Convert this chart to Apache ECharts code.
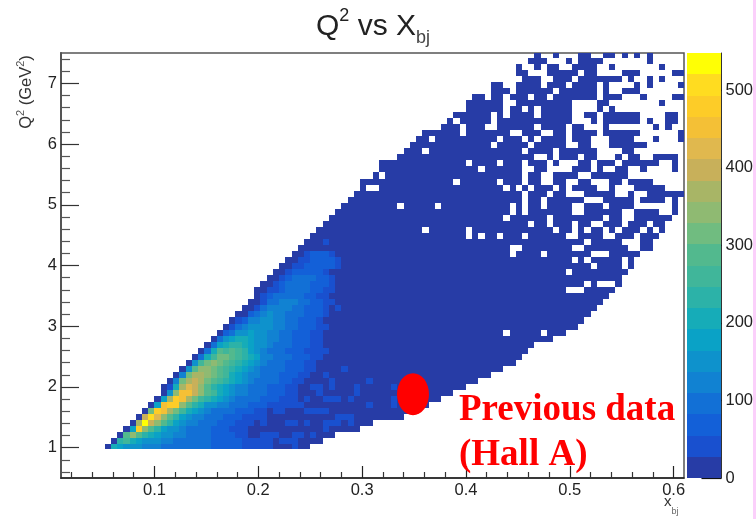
<!DOCTYPE html>
<html>
<head>
<meta charset="utf-8">
<style>html,body{margin:0;padding:0;background:#fff}#c{width:756px;height:519px;filter:blur(0.6px)}</style>
<script src="https://cdn.jsdelivr.net/npm/echarts@6/dist/echarts.min.js"></script>
</head>
<body>
<div id="c"></div>
<script>
// Filled bins per y row (row 0 = top), as column runs.
const filledRuns = [
"76 79 83-84 87-88 90 92 94",
"75-77 81 83-86 94",
"73 76 78-79 82-85 88 96",
"73-74 78-82 84-85 90-92 98-99",
"74-76 79-81 83-89 91 94 96",
"69-70 73-76 78-80 82-85 87 92 94 99",
"69-71 73-78 80-85 87 90-92",
"66-67 69-70 72-74 76-77 79-85 87-89 93 98-99",
"65-70 73-81 86-87 96",
"65-70 72-73 75 77-81 86 88",
"63-68 70 72-75 77-81 84-85 87-92 97-98",
"62 64-68 70-81 85 87-92 94 97-98",
"61-63 65-67 70-75 77-80 82-83 87 95 97",
"58-63 65-71 74-76 79-80 82-85 87-92 99",
"57-58 60-69 71-73 75 77-80 82-84 88-91 95 99",
"56-68 70-74 76-80 83-84 88-93",
"55-57 59-66 67-73 75-78 80-82 83-85 90-91",
"54-65 66-75 78 80-82 84-85 89 91-92 95-97 98",
"51-64 66-69 71-73 75-77 79 83-84 86-88 90-95 98",
"51-66 68-73 76-77 82-84 86 89-90 93 98",
"50 52-73 75-76 79-82 85-90",
"48-62 64-69 71-73 75-76 79-80 83-84 88-89 91-94",
"48 51-70 72 74 76-78 80 82-85 88 92-96",
"47-73 75-77 79-80 84-88 91 94-99",
"46-73 75-76 78 79-83 87-91 93-96 98",
"45-53 55-59 61-71 73 75-76 78-81 84-86 88-91 98",
"44-71 73 75-76 77-78 79-81 84-89 92-95 98",
"43-70 72-77 79-82 83-86 88-89 92-97",
"42-74 76-77 79-81 83-84 87-89 91-93 95-96",
"41-57 59-64 66-78 80-81 83 85-86 88 90-92 94 96",
"40-64 66 68-69 71-73 75-80 83-86 89-91 93-95",
"39-83 85-89 93-94",
"38-71 74-81 84-90 93-94",
"37-71 73-76 78-84 88-92",
"36-76 77-81 83 85-89 91",
"35-84 86-89 91",
"34-80 82-90",
"33-89",
"32-83 85 89",
"31-80 84-88",
"31-87",
"30-86",
"29-85",
"28-84",
"27-83",
"26-82",
"25-70 72-76 78-80",
"24-78",
"23-75",
"22-74",
"21-73",
"20-72",
"19-70",
"18-68",
"17-66",
"16-64",
"16-62",
"15-60",
"14-58",
"13-55",
"12-54",
"11-49",
"10-47",
"9-43",
"8-41",
"7-39"
];

// Colour-band index per row, from the row's first filled bin (0-9, a-j); bins past the end are band 0.
const bandRows = {
65: "0765554443333333322222111110001",
64: "08976555443333332222211111011100",
63: "0aca8765544333322221100111",
62: "06hca865543333222111",
61: "0djeca8654433322211101",
60: "0eifca865443332221111",
59: "0bhgdb97654333322211011",
58: "06ghhca8755443332221111",
57: "06dhgdb9876543333222111",
56: "05cggeca976544333222110",
55: "017dfeca87654433322211",
54: "04bdedba98765433332211",
53: "04bddcba97654433322211",
52: "05accba987654333322211",
51: "059bcba98765433322211",
50: "0379bba98764433322211",
49: "037a9a98654333222111",
48: "03678876554333222110",
47: "0356776554433222110",
46: "023556554433222110",
45: "013455554433222110",
44: "0124455443322210",
43: "0023454433322210",
42: "0013444433222101",
41: "001334443322110",
40: "0123333322110",
39: "00112333322110",
38: "0012333322210",
37: "001233332210",
36: "0012222210",
35: "00112222210",
34: "0011222210",
33: "0012221"
};

// Isolated light bins in the low-density part: [column, row].
const lightBins = [[42,49],[45,52],[42,53],[37,53],[43,54],[49,54],[40,55],[41,55],[43,55],[47,55],[53,55],[37,55],
[41,56],[47,56],[42,57],[43,57],[44,57],[39,57],[37,57],[46,57],[53,57],[49,58],[53,58],[36,58],[37,58],[38,58],
[39,59],[40,59],[41,59],[42,59],[44,60],[45,60],[46,60],[42,61],[43,61],[44,61],[39,61],[36,61],[37,61],[46,61],
[42,62],[37,63],[38,63],[40,63],[42,31]];

const xMajorTicks = [0.1,0.2,0.3,0.4,0.5,0.6];
const xMinorTicks = [0.02,0.04,0.06,0.08,0.12,0.14,0.16,0.18,0.22,0.24,0.26,0.28,0.32,0.34,0.36,0.38,0.42,0.44,0.46,0.48,0.52,0.54,0.56,0.58];
const yMajorTicks = [1,2,3,4,5,6,7];
const yMinorTicks = [0.6,0.8,1.2,1.4,1.6,1.8,2.2,2.4,2.6,2.8,3.2,3.4,3.6,3.8,4.2,4.4,4.6,4.8,5.2,5.4,5.6,5.8,6.2,6.4,6.6,6.8,7.2,7.4];
const colorbarTicks = [0,100,200,300,400,500];
const bandColors = ["#273ca6","#1950cf","#1360d8","#1270d6","#1182d2","#0e92cc","#0aa2c6","#16acb8","#2cb2a8","#40b69a",
"#52b98e","#70bc80","#8fba72","#a8b566","#c8b05a","#e0b84e","#f4c036","#fdcc28","#ffdc20","#ffff05"];
const previousData = [[0.349, 1.88]];

const X_MIN=0.01, X_MAX=0.61, X_BIN=0.006, Y_MIN=0.5, Y_MAX=7.5, Y_TOP_EDGE=7.4226, Y_BIN=0.0995, Y_BOTTOM=0.98, Z_MAX=548, BAND=Z_MAX/20;

const lightSet = new Set(lightBins.map(b => b[0]+":"+b[1]));
const cells = [];
filledRuns.forEach((runs, r) => {
  const parts = runs.split(" ").map(s => s.split("-").map(Number));
  const first = parts[0][0];
  const levels = bandRows[r] || "";
  const yHi = r === 0 ? Y_MAX : Y_TOP_EDGE - Y_BIN*(r-1);
  const yLo = r === filledRuns.length-1 ? Y_BOTTOM : Y_TOP_EDGE - Y_BIN*r;
  parts.forEach(p => {
    const end = p.length > 1 ? p[1] : p[0];
    for (let c = p[0]; c <= end; c++) {
      const ch = levels[c-first];
      let band = ch ? parseInt(ch, 20) : 0;
      if (!band && lightSet.has(c+":"+r)) band = 1;
      cells.push([X_MIN+X_BIN*c, X_MIN+X_BIN*(c+1), yLo, yHi, (band+0.5)*BAND]);
    }
  });
});
const bars = bandColors.map((_, i) => [0, 1, i*BAND, (i+1)*BAND, (i+0.5)*BAND]);

function drawBin(params, api) {
  const a = api.coord([api.value(0), api.value(3)]);
  const b = api.coord([api.value(1), api.value(2)]);
  const x0 = Math.round(a[0]), x1 = Math.round(b[0]), y0 = Math.round(a[1]), y1 = Math.round(b[1]);
  return {type:"rect", shape:{x:x0, y:y0, width:x1-x0, height:y1-y0},
    style:{fill:bandColors[Math.min(19, Math.floor(api.value(4)/BAND))]}};
}
const F = "'Liberation Sans', Arial, sans-serif";
const labelStyle = {fontFamily:F, fontSize:16.5, color:"#222"};

const chart = echarts.init(document.getElementById("c"), null, {renderer:"canvas", width:756, height:519});
chart.setOption({
  animation:false,
  backgroundColor:"#fff",
  title:{
    text:"{t|Q}{s|2}{t| vs X}{b|bj}", left:311, top:2,
    textStyle:{fontWeight:"normal",rich:{
      t:{fontFamily:F,fontWeight:"normal",fontSize:30,color:"#222",lineHeight:40,verticalAlign:"middle"},
      s:{fontFamily:F,fontWeight:"normal",fontSize:18,color:"#222",lineHeight:40,verticalAlign:"top"},
      b:{fontFamily:F,fontWeight:"normal",fontSize:18,color:"#444",lineHeight:40,verticalAlign:"bottom"}
    }}
  },
  grid:[
    {left:61, top:53, width:623, height:425, show:true, borderColor:"#555", borderWidth:1.5, backgroundColor:"#fff"},
    {left:687, top:53, width:36, height:425}
  ],
  xAxis:[
    {gridIndex:0,type:"value",min:X_MIN,max:X_MAX,splitLine:{show:false},
      axisLine:{show:true,onZero:false,lineStyle:{color:"#222",width:1.5}},
      axisTick:{show:true,inside:true,length:12,customValues:xMajorTicks,lineStyle:{color:"#222",width:1.2}},
      axisLabel:{show:true,customValues:xMajorTicks,margin:4,formatter:v=>v.toFixed(1),...labelStyle}},
    {gridIndex:0,type:"value",min:X_MIN,max:X_MAX,position:"bottom",splitLine:{show:false},
      axisLine:{show:false},axisLabel:{show:false},
      axisTick:{show:true,inside:true,length:6,customValues:xMinorTicks,lineStyle:{color:"#333",width:1.2}}},
    {gridIndex:1,type:"value",min:0,max:1,show:false}
  ],
  yAxis:[
    {gridIndex:0,type:"value",min:Y_MIN,max:Y_MAX,splitLine:{show:false},
      axisLine:{show:true,onZero:false,lineStyle:{color:"#555",width:2}},
      axisTick:{show:true,inside:true,length:18,customValues:yMajorTicks,lineStyle:{color:"#333",width:1.2}},
      axisLabel:{show:true,customValues:yMajorTicks,margin:4,formatter:v=>String(v),...labelStyle}},
    {gridIndex:0,type:"value",min:Y_MIN,max:Y_MAX,position:"left",splitLine:{show:false},
      axisLine:{show:false},axisLabel:{show:false},
      axisTick:{show:true,inside:true,length:9,customValues:yMinorTicks,lineStyle:{color:"#555",width:1.2}}},
    {gridIndex:1,type:"value",min:0,max:Z_MAX,position:"right",splitLine:{show:false},
      axisLine:{show:true,onZero:false,lineStyle:{color:"#333",width:1}},
      axisTick:{show:true,inside:true,length:20,customValues:colorbarTicks,lineStyle:{color:"#111",width:1.2}},
      axisLabel:{show:true,customValues:colorbarTicks,margin:4,formatter:v=>String(v),...labelStyle}}
  ],
  series:[
    {type:"custom",name:"bins",xAxisIndex:0,yAxisIndex:0,coordinateSystem:"cartesian2d",clip:true,
      renderItem:drawBin,data:cells,encode:{x:[0,1],y:[2,3]},silent:true},
    {type:"custom",name:"palette",xAxisIndex:2,yAxisIndex:2,coordinateSystem:"cartesian2d",
      renderItem:drawBin,data:bars,encode:{x:[0,1],y:[2,3]},silent:true},
    {type:"scatter",name:"Previous data",xAxisIndex:0,yAxisIndex:0,data:previousData,symbol:"circle",symbolSize:[32,42],
      itemStyle:{color:"#ff0000",opacity:1},z:5,silent:true}
  ],
  graphic:[
    {type:"text",x:25,y:92,rotation:Math.PI/2,z:10,style:{
      text:"{q|Q}{s|2}{q| (GeV}{s|2}{q|)}",align:"center",verticalAlign:"middle",
      rich:{q:{fontFamily:F,fontSize:16.5,fill:"#333",lineHeight:20,verticalAlign:"bottom"},
            s:{fontFamily:F,fontSize:11,fill:"#555",lineHeight:20,verticalAlign:"top"}}}},
    {type:"text",x:664,y:494,z:10,style:{
      text:"{q|x}{s|bj}",
      rich:{q:{fontFamily:F,fontSize:15,fill:"#333",lineHeight:22,verticalAlign:"top"},
            s:{fontFamily:F,fontSize:9,fill:"#666",lineHeight:22,verticalAlign:"bottom"}}}},
    {type:"text",x:459,y:392,z:10,style:{text:"Previous data",font:"bold 37px 'Liberation Serif', serif",fill:"#ff0000"}},
    {type:"text",x:459,y:437,z:10,style:{text:"(Hall A)",font:"bold 37px 'Liberation Serif', serif",fill:"#ff0000"}},
    {type:"rect",z:20,shape:{x:753,y:0,width:3,height:519},style:{fill:"#fbd0fb"}}
  ]
});
</script>
</body>
</html>
